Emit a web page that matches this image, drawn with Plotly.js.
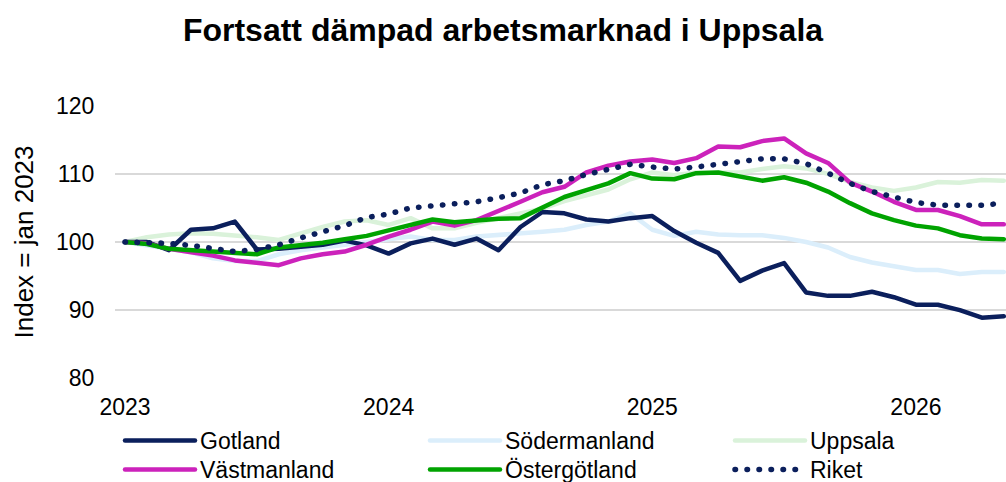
<!DOCTYPE html>
<html>
<head>
<meta charset="utf-8">
<script src="https://cdn.plot.ly/plotly-3.0.1.min.js"></script>
<style>
  html, body { margin: 0; padding: 0; background: #fff; }
  #chart { width: 1006px; height: 482px; }
  path.js-line { stroke-linecap: round; stroke-linejoin: round; }
</style>
</head>
<body>
<div id="chart"></div>
<script>
const months = [
  "2023-01","2023-02","2023-03","2023-04","2023-05","2023-06","2023-07","2023-08","2023-09","2023-10","2023-11","2023-12",
  "2024-01","2024-02","2024-03","2024-04","2024-05","2024-06","2024-07","2024-08","2024-09","2024-10","2024-11","2024-12",
  "2025-01","2025-02","2025-03","2025-04","2025-05","2025-06","2025-07","2025-08","2025-09","2025-10","2025-11","2025-12",
  "2026-01","2026-02","2026-03","2026-04","2026-05"
];
const tickMonths = ["2023-01","2024-01","2025-01","2026-01"];
const tickLabels = ["2023","2024","2025","2026"];
const yTicks = [80, 90, 100, 110, 120];

const gotland = [100, 100.0, 98.8, 101.8, 102.0, 103.0, 98.9, 99.0, 99.3, 99.6, 100.2, 99.5,
  98.3, 99.8, 100.5, 99.6, 100.5, 98.8, 102.2, 104.4, 104.2, 103.3, 103.0, 103.5,
  103.8, 101.6, 99.9, 98.4, 94.3, 95.8, 96.9, 92.6, 92.1, 92.1, 92.7, 91.9,
  90.8, 90.8, 90.0, 88.9, 89.1];
const sodermanland = [100, 99.5, 99.0, 98.5, 97.6, 97.2, 97.2, 98.2, 98.8, 99.2, 99.6, 100.0,
  100.3, 100.8, 100.3, 100.3, 100.8, 101.0, 101.3, 101.5, 101.8, 102.5, 103.0, 104.2,
  101.8, 100.9, 101.5, 101.1, 101.0, 101.0, 100.6, 100.0, 99.2, 97.8, 97.0, 96.4,
  95.9, 95.9, 95.3, 95.6, 95.6];
const uppsala = [100, 100.7, 101.1, 101.3, 101.2, 101.0, 100.7, 100.3, 101.3, 102.2, 103.0, 103.2,
  102.5, 103.5, 102.0, 102.0, 102.8, 103.5, 104.3, 104.9, 106.0, 106.9, 107.7, 109.2,
  110.2, 109.8, 110.2, 110.2, 110.2, 110.7, 111.1, 110.8, 110.0, 108.8, 108.0, 107.5,
  108.0, 108.8, 108.7, 109.1, 109.0];
const vastmanland = [100, 99.8, 99.0, 98.5, 98.0, 97.3, 96.9, 96.6, 97.6, 98.2, 98.6, 99.6,
  100.8, 101.8, 103.0, 102.4, 103.2, 104.5, 105.9, 107.3, 108.1, 110.2, 111.2, 111.8,
  112.1, 111.6, 112.3, 114.0, 113.9, 114.8, 115.2, 113.0, 111.6, 108.7, 107.4, 105.9,
  104.7, 104.7, 103.8, 102.6, 102.6];
const ostergotland = [100, 99.7, 99.0, 98.8, 98.6, 98.5, 98.2, 99.2, 99.5, 99.9, 100.4, 100.9,
  101.7, 102.5, 103.3, 102.9, 103.2, 103.4, 103.5, 105.0, 106.6, 107.6, 108.6, 110.1,
  109.3, 109.2, 110.1, 110.2, 109.6, 109.0, 109.5, 108.7, 107.4, 105.7, 104.2, 103.2,
  102.4, 102.0, 101.0, 100.5, 100.4];
const riket = [100, 100.0, 99.8, 99.5, 99.1, 98.6, 98.9, 99.6, 100.6, 101.5, 102.4, 103.6,
  104.1, 105.0, 105.3, 105.5, 105.9, 106.5, 107.2, 108.4, 109.0, 109.9, 110.6, 111.4,
  111.0, 110.7, 111.0, 111.4, 111.8, 112.2, 112.2, 111.5, 110.1, 108.6, 107.4, 106.6,
  105.8, 105.4, 105.4, 105.4, 105.7];

const colors = {
  gotland: "#0b1f5c",
  sodermanland: "#dbeefb",
  uppsala: "#daf2da",
  vastmanland: "#cc22bb",
  ostergotland: "#00a300",
  riket: "#0b1f5c"
};

function tr(name, y, color, legendId, dash, width) {
  return {
    type: "scatter", mode: "lines", name: name, x: months, y: y,
    line: { color: color, width: width || 4.5, dash: dash || "solid" },
    legend: legendId, hoverinfo: "skip"
  };
}

// drawing order (later = on top); each series has its own legend slot
const data = [
  tr("Uppsala", uppsala, colors.uppsala, "legend3"),
  tr("Södermanland", sodermanland, colors.sodermanland, "legend2"),
  tr("Gotland", gotland, colors.gotland, "legend"),
  tr("Västmanland", vastmanland, colors.vastmanland, "legend4"),
  tr("Östergötland", ostergotland, colors.ostergotland, "legend5"),
  tr("Riket", riket, colors.riket, "legend6", "0.5px,11.5px", 5.5)
];

// plot area: x 115..1006 px
const PL = 115, PW = 891;
function legendAt(xPix, yTopPix) {
  return {
    orientation: "v",
    xref: "paper", yref: "container",
    x: (xPix - PL) / PW, xanchor: "left",
    y: 1 - yTopPix / 482, yanchor: "top",
    itemwidth: 70,
    font: { size: 23, color: "#000000" },
    bgcolor: "rgba(0,0,0,0)"
  };
}

const layout = {
  width: 1006, height: 482,
  margin: { l: 115, r: 0, t: 105, b: 103, autoexpand: false },
  paper_bgcolor: "#ffffff", plot_bgcolor: "#ffffff",
  font: { family: "Liberation Sans, Arial, sans-serif", color: "#000000", size: 23 },
  title: {
    text: "<b>Fortsatt dämpad arbetsmarknad i Uppsala</b>",
    font: { size: 32, color: "#000000", family: "Liberation Sans, Arial, sans-serif" },
    x: 0.5, xref: "container", xanchor: "center",
    y: 0.938, yref: "container", yanchor: "middle"
  },
  xaxis: {
    type: "category",
    range: [-0.455, 40.1],
    tickvals: tickMonths, ticktext: tickLabels,
    showgrid: false, zeroline: false, showline: false, ticks: "",
    ticklabelstandoff: 12,
    tickfont: { size: 23, color: "#000000" },
    fixedrange: true
  },
  yaxis: {
    range: [79.9, 120.1],
    tickvals: yTicks,
    showgrid: true, gridcolor: "#d9d9d9", gridwidth: 1.5,
    zeroline: false, showline: false,
    ticks: "outside", ticklen: 15, tickcolor: "rgba(0,0,0,0)",
    tickfont: { size: 23, color: "#000000" },
    title: { text: "Index = jan 2023", font: { size: 26, color: "#000000" }, standoff: 14 },
    fixedrange: true
  },
  showlegend: true,
  legend: legendAt(120, 419),
  legend2: legendAt(425, 419),
  legend3: legendAt(730, 419),
  legend4: legendAt(120, 448),
  legend5: legendAt(425, 448),
  legend6: legendAt(730, 448)
};

Plotly.newPlot("chart", data, layout, { staticPlot: true, displayModeBar: false });
</script>
</body>
</html>
